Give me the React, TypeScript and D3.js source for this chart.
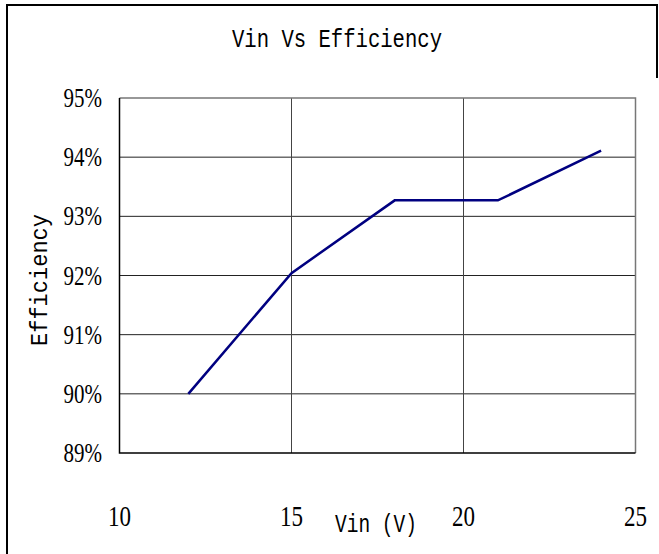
import * as d3 from "d3";
import { useEffect, useRef } from "react";

const vin = [12, 15, 18, 21, 24];
const efficiency = [90.0, 92.04, 93.27, 93.27, 94.11];
const xTicks = [10, 15, 20, 25];
const yTicks = [89, 90, 91, 92, 93, 94, 95];

const App = () => {
  const ref = useRef<SVGSVGElement>(null);

  useEffect(() => {
    draw();
  }, []);

  const draw = () => {
    const width = 659,
      height = 554;
    // plot area
    const left = 119.5,
      right = 635.5,
      top = 98,
      bottom = 453;

    const svg = d3.select(ref.current);
    svg.selectAll("*").remove();

    svg.append("rect").attr("width", width).attr("height", height).attr("fill", "#fff");

    // outer frame (partly visible in the reference)
    svg
      .append("path")
      .attr("d", `M7,${height} V5 H657 V78`)
      .attr("fill", "none")
      .attr("stroke", "#000")
      .attr("stroke-width", 2);

    const x = d3.scaleLinear().domain([10, 25]).range([left, right]);
    const y = d3.scaleLinear().domain([89, 95]).range([bottom, top]);

    const mono = "'Liberation Mono', 'DejaVu Sans Mono', monospace";
    const serif = "'Liberation Serif', 'DejaVu Serif', serif";

    // title
    svg
      .append("text")
      .attr("x", 232)
      .attr("y", 47)
      .attr("font-family", mono)
      .attr("font-size", 26)
      .attr("textLength", 210)
      .attr("lengthAdjust", "spacingAndGlyphs")
      .text("Vin Vs Efficiency");

    // grid lines
    svg
      .append("g")
      .selectAll("line")
      .data(yTicks.slice(1, -1))
      .enter()
      .append("line")
      .attr("x1", left)
      .attr("x2", right)
      .attr("y1", (d) => y(d))
      .attr("y2", (d) => y(d))
      .attr("stroke", "#222")
      .attr("stroke-width", 1);

    svg
      .append("g")
      .selectAll("line")
      .data(xTicks.slice(1, -1))
      .enter()
      .append("line")
      .attr("x1", (d) => x(d))
      .attr("x2", (d) => x(d))
      .attr("y1", top)
      .attr("y2", bottom)
      .attr("stroke", "#444")
      .attr("stroke-width", 1);

    // top and right border of plot (gray)
    svg
      .append("path")
      .attr("d", `M${left},${top} H${right} V${bottom}`)
      .attr("fill", "none")
      .attr("stroke", "#777")
      .attr("stroke-width", 1.5);

    // axes (black)
    svg
      .append("path")
      .attr("d", `M${left},${top} V${bottom} H${right}`)
      .attr("fill", "none")
      .attr("stroke", "#000")
      .attr("stroke-width", 1.5);

    // y tick labels (tall, narrow digits as in the reference)
    svg
      .append("g")
      .selectAll("text")
      .data(yTicks)
      .enter()
      .append("text")
      .attr("transform", (d) => `translate(102,${y(d) + 9}) scale(1,1.25)`)
      .attr("text-anchor", "end")
      .attr("font-family", serif)
      .attr("font-size", 21)
      .text((d) => d + "%");

    // x tick labels
    svg
      .append("g")
      .selectAll("text")
      .data(xTicks)
      .enter()
      .append("text")
      .attr("transform", (d) => `translate(${x(d)},526) scale(1,1.25)`)
      .attr("text-anchor", "middle")
      .attr("font-family", serif)
      .attr("font-size", 23)
      .text((d) => d);

    // axis titles
    svg
      .append("text")
      .attr("x", 335)
      .attr("y", 532)
      .attr("font-family", mono)
      .attr("font-size", 25)
      .attr("textLength", 82)
      .attr("lengthAdjust", "spacingAndGlyphs")
      .text("Vin (V)");

    svg
      .append("text")
      .attr("transform", "translate(46.5,346) rotate(-90)")
      .attr("font-family", mono)
      .attr("font-size", 24)
      .attr("textLength", 132)
      .attr("lengthAdjust", "spacingAndGlyphs")
      .text("Efficiency");

    // efficiency line
    const line = d3
      .line<number>()
      .x((d, i) => x(vin[i]))
      .y((d) => y(d));

    svg
      .append("path")
      .datum(efficiency)
      .attr("d", line)
      .attr("fill", "none")
      .attr("stroke", "#000080")
      .attr("stroke-width", 2.5);
  };

  return (
    <svg
      ref={ref}
      width={659}
      height={554}
      style={{ position: "absolute", left: 0, top: 0 }}
    />
  );
};

export default App;
